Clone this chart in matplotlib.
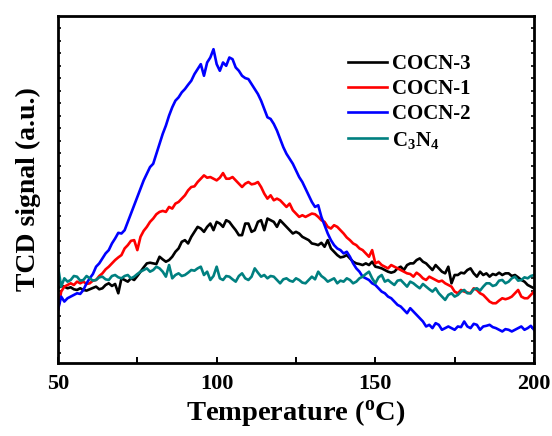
import numpy as np
import matplotlib
matplotlib.use("Agg")
import matplotlib.pyplot as plt

plt.rcParams["font.family"] = ["Liberation Serif", "DejaVu Serif"]
plt.rcParams["font.weight"] = "bold"
plt.rcParams["axes.labelweight"] = "bold"
plt.rcParams["mathtext.fontset"] = "custom"
plt.rcParams["mathtext.rm"] = "Liberation Serif:bold"
plt.rcParams["mathtext.it"] = "Liberation Serif:bold:italic"
plt.rcParams["mathtext.bf"] = "Liberation Serif:bold"

# temperature grid, 1 degree steps
temperature = np.arange(50, 201)

cocn3 = [
    225, 232, 230, 225, 228, 222, 220, 225, 220, 218,
    222, 226, 230, 222, 225, 235, 240, 232, 238, 210,
    255, 250, 245, 255, 250, 262, 275, 288, 300, 302,
    300, 298, 320, 312, 305, 310, 320, 335, 345, 365,
    370, 360, 380, 395, 410, 405, 395, 410, 420, 400,
    425, 420, 410, 430, 425, 412, 400, 385, 385, 420,
    420, 395, 400, 425, 430, 400, 435, 430, 425, 410,
    430, 420, 410, 400, 390, 395, 390, 380, 375, 370,
    360, 358, 355, 362, 350, 370, 345, 335, 325, 318,
    320, 325, 315, 305, 300, 298, 295, 300, 295, 305,
    290, 288, 285, 280, 275, 272, 275, 285, 290, 280,
    295, 300, 300, 310, 315, 305, 300, 290, 280, 295,
    285, 275, 270, 290, 240, 265, 265, 272, 270, 280,
    285, 270, 260, 275, 265, 270, 260, 268, 265, 272,
    265, 270, 270, 262, 265, 258, 250, 245, 235, 230,
    225,
]

cocn1 = [
    160, 215, 230, 235, 240, 235, 245, 240, 245, 238,
    240, 248, 250, 262, 270, 282, 290, 300, 310, 318,
    325, 345, 355, 368, 370, 340, 380, 398, 410, 425,
    435, 448, 455, 458, 455, 470, 465, 480, 485, 495,
    505, 520, 530, 532, 545, 555, 565, 558, 560, 555,
    550, 558, 572, 555, 555, 560, 550, 540, 530, 540,
    545, 538, 540, 545, 530, 510, 495, 505, 490, 495,
    490, 480, 470, 480, 460, 450, 440, 445, 440, 445,
    450, 448, 440, 430, 425, 410, 405, 415, 410, 400,
    390, 378, 370, 360, 355, 345, 340, 330, 320, 340,
    300, 305, 295, 290, 285, 295, 290, 285, 280, 275,
    270, 268, 260, 272, 265, 255, 250, 260, 255, 250,
    245, 248, 240, 235, 230, 215, 210, 220, 215, 212,
    210, 225, 220, 210, 205, 195, 185, 180, 180, 188,
    195, 192, 195, 200, 210, 220, 200, 195, 195, 205,
    215,
]

cocn2 = [
    160, 200, 185, 195, 200, 205, 210, 208, 220, 240,
    255, 268, 290, 300, 315, 330, 340, 360, 375, 392,
    390, 400, 425, 450, 475, 500, 525, 550, 570, 590,
    600, 630, 660, 690, 715, 745, 770, 790, 800, 815,
    825, 838, 850, 870, 885, 900, 865, 905, 920, 945,
    900, 880, 905, 895, 920, 915, 890, 880, 865, 858,
    855, 840, 825, 810, 790, 765, 740, 735, 720, 700,
    675, 650, 630, 615, 600, 580, 560, 545, 525, 505,
    485, 470, 475, 440, 415, 390, 370, 355, 345, 340,
    330, 335, 320, 300, 285, 275, 260, 255, 250, 240,
    235, 225, 215, 210, 200, 195, 185, 175, 170, 160,
    150, 165, 155, 145, 135, 125, 110, 115, 105, 120,
    115, 100, 105, 110, 105, 100, 110, 108, 125, 110,
    105, 118, 115, 100, 110, 112, 115, 108, 105, 100,
    95, 102, 100, 95, 100, 105, 110, 100, 105, 112,
    100,
]

c3n4 = [
    290, 230, 255, 245, 250, 262, 260, 248, 250, 262,
    255, 248, 250, 258, 260, 252, 250, 262, 265, 258,
    255, 262, 265, 255, 260, 268, 275, 280, 285, 275,
    280, 290, 285, 275, 260, 295, 255, 265, 270, 262,
    265, 272, 280, 278, 285, 290, 265, 275, 250, 262,
    290, 255, 250, 262, 260, 252, 245, 262, 270, 255,
    250, 260, 285, 272, 260, 265, 255, 262, 260, 250,
    240, 252, 255, 248, 245, 255, 250, 242, 240, 250,
    260, 252, 275, 262, 255, 245, 250, 255, 240, 248,
    245, 255, 250, 240, 245, 255, 260, 268, 275, 255,
    240, 258, 265, 245, 250, 242, 235, 248, 250, 240,
    230, 245, 240, 232, 225, 238, 230, 222, 215, 225,
    210, 200, 190, 205, 210, 200, 205, 215, 220, 210,
    210, 222, 225, 218, 230, 240, 240, 232, 235, 248,
    250, 240, 245, 255, 260, 248, 250, 258, 255, 262,
    265,
]

series = [
    ("COCN-3", cocn3, "black"),
    ("COCN-1", cocn1, "#ff0000"),
    ("COCN-2", cocn2, "#0000ff"),
    ("C$_{3}$N$_{4}$", c3n4, "#008080"),
]

fig = plt.figure(figsize=(5.52, 4.36), dpi=100)
ax = fig.add_axes([58 / 552, 1 - 363 / 436, 476 / 552, 347 / 436])

for label, values, color in series:
    ax.plot(temperature, values, color=color, lw=1.9, label=label)

ax.set_xlim(50, 200)
ax.set_ylim(0, 1045)
ax.set_xticks([50, 100, 150, 200])
ax.set_xticks([75, 125, 175], minor=True)
ax.set_yticks(np.arange(30, 1040, 37.6))
ax.set_yticklabels([])

ax.tick_params(axis="x", which="both", direction="in", length=4, width=1.4,
               labelsize=16, pad=8)
ax.tick_params(axis="y", direction="in", length=2, width=1.2,
               left=True, right=True)
for spine in ax.spines.values():
    spine.set_linewidth(2.0)

ax.set_xlabel(r"Temperature ($^{\mathrm{o}}$C)", fontsize=20.5, labelpad=3)
ax.set_ylabel("TCD signal (a.u.)", fontsize=20, labelpad=9)

ax.legend(loc="upper left", bbox_to_anchor=(348 / 552, 1 - 54 / 436),
          bbox_transform=fig.transFigure, frameon=False, fontsize=15,
          handlelength=1.85, handletextpad=0.25, labelspacing=0.25,
          borderpad=0, borderaxespad=0)

fig.savefig("out.png", dpi=100, facecolor="white")
